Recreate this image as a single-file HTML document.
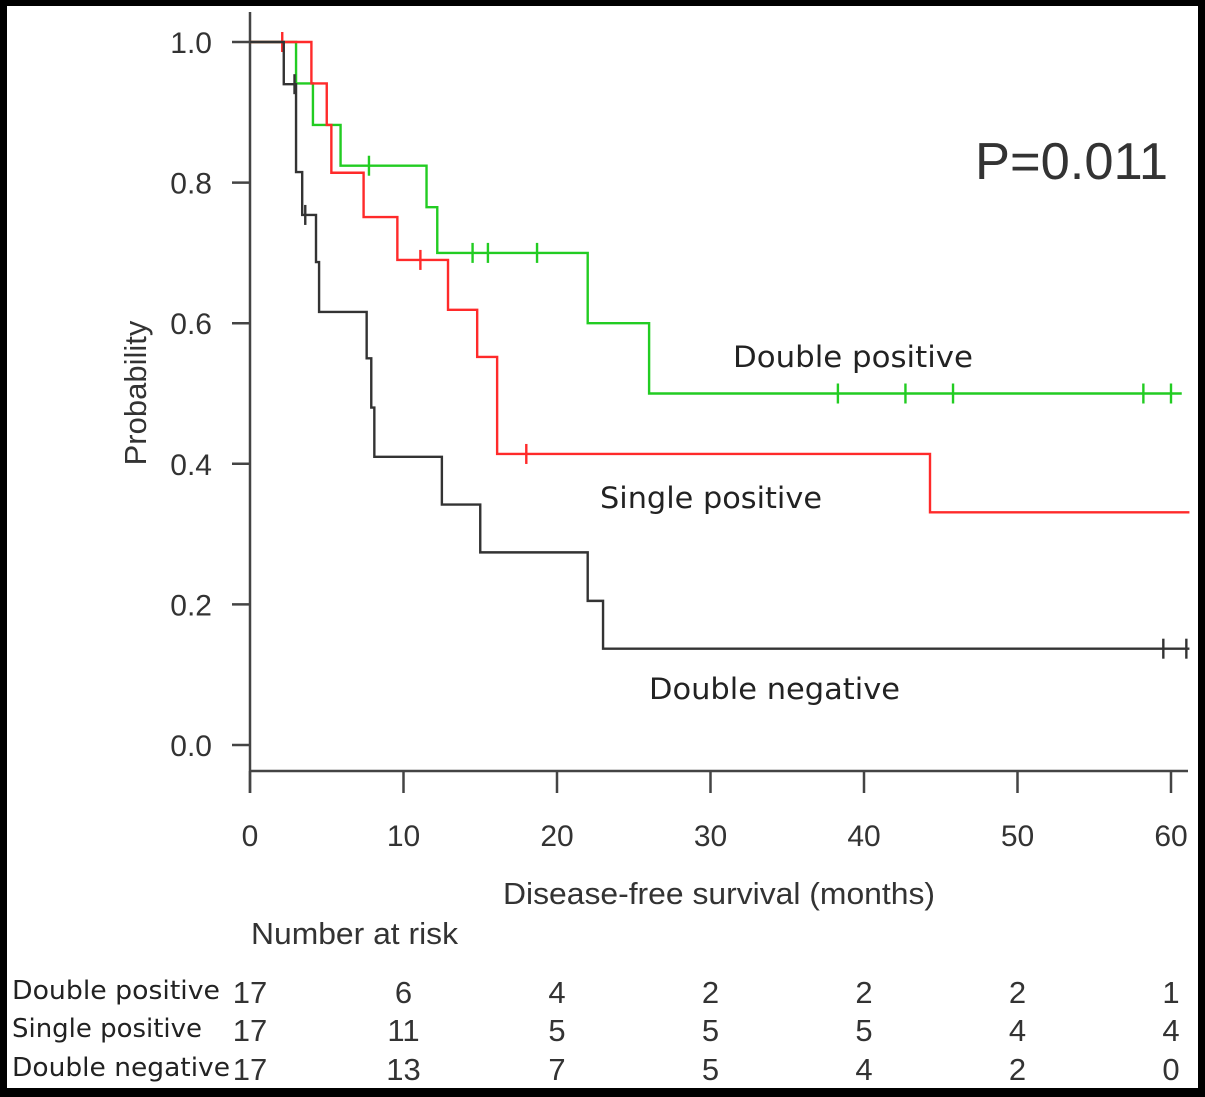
<!DOCTYPE html>
<html><head><meta charset="utf-8"><style>
html,body{margin:0;padding:0;background:#000;}
svg{display:block;}
.ax{font-family:"Liberation Sans",sans-serif;fill:#333;}
.op{font-family:"DejaVu Sans","Liberation Sans",sans-serif;fill:#222;}
</style></head><body>
<svg id="chart" width="1205" height="1097" viewBox="0 0 1205 1097">
<rect x="0" y="0" width="1205" height="1097" fill="#000"/>
<rect x="7" y="6" width="1191" height="1082" fill="#fff"/>
<g id="axes"></g>
<g id="curves"></g>
<text class="ax" x="975" y="179" font-size="52" fill="#111" textLength="193" lengthAdjust="spacingAndGlyphs">P=0.011</text>
<text class="op" x="733" y="367" font-size="29" textLength="240" lengthAdjust="spacingAndGlyphs">Double positive</text>
<text class="op" x="600" y="508" font-size="29" textLength="222" lengthAdjust="spacingAndGlyphs">Single positive</text>
<text class="op" x="649" y="699" font-size="29" textLength="251" lengthAdjust="spacingAndGlyphs">Double negative</text>
<text class="ax" x="503" y="904" font-size="31" textLength="432" lengthAdjust="spacingAndGlyphs">Disease-free survival (months)</text>
<text class="ax" transform="translate(146,393) rotate(-90)" font-size="31" text-anchor="middle">Probability</text>
<text class="ax" x="251" y="944" font-size="31" textLength="207" lengthAdjust="spacingAndGlyphs">Number at risk</text>
<g id="risk"></g>
</svg>
<script>
const xTicks=[0,10,20,30,40,50,60];
const yTicks=[0,0.2,0.4,0.6,0.8,1.0];
const yTickLabels=["0.0","0.2","0.4","0.6","0.8","1.0"];
const groups=["Double positive","Single positive","Double negative"];
const colors=["#22cc22","#ff2a2a","#333333"];
const dpTimes=[0,3.0,4.1,5.9,11.5,12.2,22.0,26.0];
const dpSurv=[1.0,0.941,0.882,0.824,0.765,0.70,0.60,0.50];
const dpCens=[7.75,14.5,15.5,18.7,38.3,42.7,45.8,58.2,60.0];
const dpEnd=60.7;
const spTimes=[0,4.0,5.0,5.3,7.4,9.6,12.9,14.8,16.1,44.3];
const spSurv=[1.0,0.941,0.882,0.814,0.751,0.69,0.619,0.552,0.414,0.331];
const spCens=[2.1,11.1,18.0];
const spEnd=61.2;
const dnTimes=[0,2.2,3.0,3.4,4.3,4.5,7.6,7.9,8.1,12.5,15.0,22.0,23.0];
const dnSurv=[1.0,0.94,0.815,0.754,0.687,0.616,0.55,0.48,0.41,0.342,0.274,0.205,0.137];
const dnCens=[2.9,3.6,59.5,61.0];
const dnEnd=61.2;
const riskTimes=[0,10,20,30,40,50,60];
const riskDP=[17,6,4,2,2,2,1];
const riskSP=[17,11,5,5,5,4,4];
const riskDN=[17,13,7,5,4,2,0];

const NS="http://www.w3.org/2000/svg";
const X=t=>250+t*15.35;
const Y=p=>745-p*703;
function mk(tag,attrs,parent){const e=document.createElementNS(NS,tag);for(const k in attrs)e.setAttribute(k,attrs[k]);parent.appendChild(e);return e;}
const axes=document.getElementById('axes');
let e=mk('line',{x1:250,y1:12,x2:250,y2:793,stroke:'#444','stroke-width':2.5},axes);


e=mk('line',{x1:250,y1:771,x2:1188,y2:771,stroke:'#444','stroke-width':2.5},axes);


yTicks.forEach((v,i)=>{
 const t=mk('line',{x1:232,y1:Y(v),x2:250,y2:Y(v),stroke:'#444','stroke-width':2.5},axes);
 
 
 const l=mk('text',{x:212,y:Y(v)+11,'font-size':30,'text-anchor':'end',class:'ax'},axes);l.textContent=yTickLabels[i];
 
 
});
xTicks.forEach(v=>{
 const t=mk('line',{x1:X(v),y1:771,x2:X(v),y2:793,stroke:'#444','stroke-width':2.5},axes);
 
 
 const l=mk('text',{x:X(v),y:846,'font-size':30,'text-anchor':'middle',class:'ax'},axes);l.textContent=v;
 
 
});
const curves=document.getElementById('curves');
function stepVal(times,surv,t){let s=surv[0];for(let i=0;i<times.length;i++)if(times[i]<=t)s=surv[i];return s;}
function draw(times,surv,cens,end,col,name){
 let d=`M${X(times[0])},${Y(surv[0])}`;
 for(let i=1;i<times.length;i++){d+=`H${X(times[i])}V${Y(surv[i])}`;}
 d+=`H${X(end)}`;
 const p=mk('path',{d:d,fill:'none',stroke:col,'stroke-width':2.4},curves);
 
 
 cens.forEach(c=>{
  const y=Y(stepVal(times,surv,c));
  const m=mk('line',{x1:X(c),y1:y-10,x2:X(c),y2:y+10,stroke:col,'stroke-width':2.4},curves);
  
  
 });
}
draw(dpTimes,dpSurv,dpCens,dpEnd,colors[0],'double-positive');
draw(spTimes,spSurv,spCens,spEnd,colors[1],'single-positive');
draw(dnTimes,dnSurv,dnCens,dnEnd,colors[2],'double-negative');
const risk=document.getElementById('risk');
const rows=[riskDP,riskSP,riskDN];const rowY=[1003,1041,1080];
const labW=[208,190,218];
rows.forEach((r,i)=>{
 const l=mk('text',{x:12,y:rowY[i]-4,'font-size':26,class:'op',textLength:labW[i],lengthAdjust:'spacingAndGlyphs'},risk);l.textContent=groups[i];
 
 
 r.forEach((v,j)=>{
  const n=mk('text',{x:X(riskTimes[j]),y:rowY[i],'font-size':31,'text-anchor':'middle',class:'ax'},risk);n.textContent=v;
  
  
 });
});
</script>
</body></html>
